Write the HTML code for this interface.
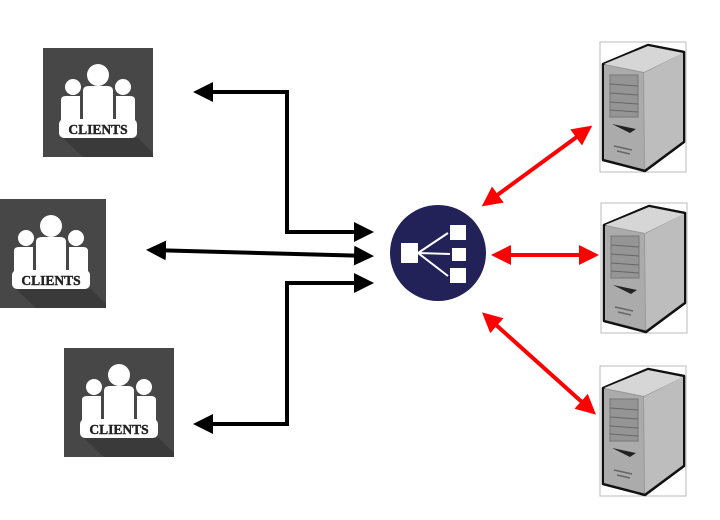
<!DOCTYPE html>
<html><head><style>html,body{margin:0;padding:0;background:#fff}svg{display:block}</style></head>
<body>
<svg width="720" height="520" viewBox="0 0 720 520" xmlns="http://www.w3.org/2000/svg">
<defs>
<g id="cl">
 <rect x="0" y="0" width="110" height="109" fill="#474747"/>
 <polygon points="20,90 95,90 110,105 110,109 40,109" fill="#3a3a3a"/>
 <g fill="#fff">
  <circle cx="55" cy="27" r="11"/>
  <path d="M40,43 Q40,38 46,38 L64,38 Q70,38 70,43 L70,72 L40,72 Z"/>
  <circle cx="30" cy="39" r="8"/>
  <path d="M18,52 Q18,48 23,48 L37,48 L37,72 L18,72 Z"/>
  <circle cx="80" cy="39" r="8"/>
  <path d="M73,48 L87,48 Q92,48 92,52 L92,72 L73,72 Z"/>
  <rect x="16" y="71" width="78" height="19" rx="5"/>
 </g>
 <text x="55" y="86" text-anchor="middle" font-family="Liberation Serif, serif" font-weight="bold" font-size="13.5" fill="#222" stroke="#222" stroke-width="0.4">CLIENTS</text>
</g>
<g id="sv">
 <rect x="0" y="0" width="86" height="130" fill="none" stroke="#bbb" stroke-width="1"/>
 <polygon points="3,22 48,3 84,10 84,100 45,129 3,118" fill="#999" stroke="#111" stroke-width="2.5" stroke-linejoin="round"/>
 <polygon points="4,22 48,4 83,11 44,30" fill="#d6d6d6"/>
 <polygon points="44,31 83,11 83,99 45,127" fill="#bdbdbd"/>
 <polygon points="4,23 43,31 44,127 4,117" fill="#ababab"/>
 <rect x="10" y="33" width="28" height="42" fill="#959595" stroke="#777"/>
 <line x1="10" y1="42" x2="38" y2="44" stroke="#666"/>
 <line x1="10" y1="51" x2="38" y2="53" stroke="#666"/>
 <line x1="10" y1="60" x2="38" y2="62" stroke="#666"/>
 <line x1="10" y1="68" x2="38" y2="70" stroke="#666"/>
 <path d="M12,82 L36,87 L30,91 Z" fill="#222"/>
 <line x1="14" y1="104" x2="32" y2="108" stroke="#666" stroke-width="1.5"/>
 <line x1="17" y1="109" x2="30" y2="112" stroke="#666" stroke-width="1.5"/>
</g>
<marker id="ab" markerWidth="5" markerHeight="5" refX="4" refY="2.5" orient="auto-start-reverse" markerUnits="strokeWidth"><path d="M0,0 L5,2.5 L0,5 Z" fill="#000"/></marker>
<marker id="ar" markerWidth="5" markerHeight="5" refX="4" refY="2.5" orient="auto-start-reverse" markerUnits="strokeWidth"><path d="M0,0 L5,2.5 L0,5 Z" fill="#f00"/></marker>
</defs>
<use href="#cl" x="43" y="48"/>
<use href="#cl" x="-4" y="199"/>
<use href="#cl" x="64" y="348"/>
<use href="#sv" x="600" y="42"/>
<use href="#sv" x="601" y="203"/>
<use href="#sv" x="600" y="366"/>
<g stroke="#000" stroke-width="4" fill="none">
 <polyline points="197,92 287,92 287,232 370,232" marker-start="url(#ab)" marker-end="url(#ab)"/>
 <line x1="150" y1="250" x2="370" y2="256" marker-start="url(#ab)" marker-end="url(#ab)"/>
 <polyline points="370,283 287,283 287,424 197,424" marker-start="url(#ab)" marker-end="url(#ab)"/>
</g>
<g stroke="#f00" stroke-width="4" fill="none">
 <line x1="485" y1="204" x2="589" y2="128" marker-start="url(#ar)" marker-end="url(#ar)"/>
 <line x1="495" y1="255" x2="595" y2="255" marker-start="url(#ar)" marker-end="url(#ar)"/>
 <line x1="485" y1="315" x2="593" y2="412" marker-start="url(#ar)" marker-end="url(#ar)"/>
</g>
<circle cx="438" cy="253" r="48" fill="#222158"/>
<g fill="#fff" stroke="#fff">
 <rect x="401" y="243" width="17" height="20" stroke="none"/>
 <rect x="450" y="225" width="16" height="15" stroke="none"/>
 <rect x="452" y="248" width="14" height="13" stroke="none"/>
 <rect x="450" y="268" width="16" height="15" stroke="none"/>
 <line x1="418" y1="253" x2="448" y2="233" stroke-width="2"/>
 <line x1="418" y1="253" x2="450" y2="254" stroke-width="2"/>
 <line x1="418" y1="253" x2="448" y2="276" stroke-width="2"/>
</g>
</svg>
</body></html>
